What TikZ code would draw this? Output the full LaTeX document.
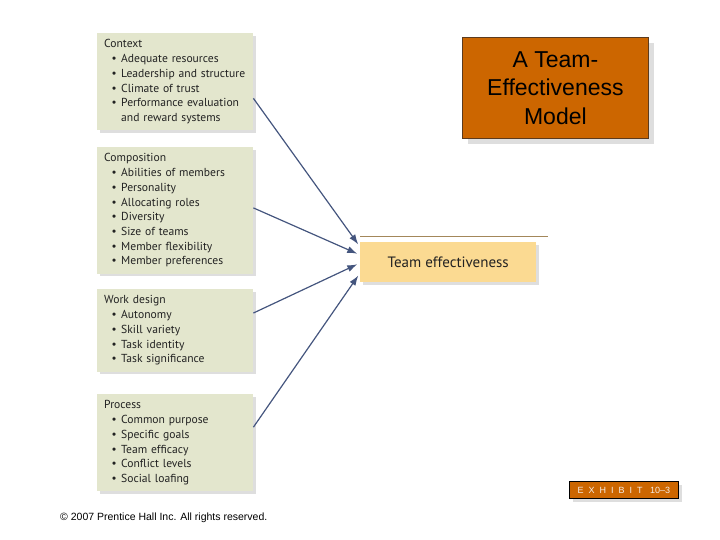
\documentclass[tikz,border=0pt]{standalone}
\usepackage{fontspec}
\setmainfont{Liberation Sans}
\newfontfamily\boxfont{PT Sans}
\usetikzlibrary{positioning, arrows.meta, shadows, calc}
\definecolor{boxGreen}{HTML}{E3E6CD}
\definecolor{teamGold}{HTML}{FBDA92}
\definecolor{titleOrange}{HTML}{CC6600}
\definecolor{titleEdge}{HTML}{5C3B1E}
\definecolor{arrowNavy}{HTML}{44557E}
\definecolor{ruleBrown}{HTML}{A3875A}
\definecolor{shadowGray}{HTML}{BDBDBD}
\definecolor{exhibitText}{HTML}{F6EEE6}
\definecolor{boxText}{HTML}{222222}

\newcommand{\itm}[1]{\hspace*{8pt}\makebox[9pt][l]{\rmfamily\textbullet}#1}
\newcommand{\cnt}[1]{\hspace*{17pt}#1}

\begin{document}
\begin{tikzpicture}[x=1pt, y=-1pt,
  factorbox/.style={fill=boxGreen, anchor=north west, align=left,
    text width=142pt, inner xsep=7pt, inner ysep=6.5pt, text=boxText,
    font=\boxfont\fontsize{11.6}{14.7}\selectfont,
    drop shadow={shadow xshift=2.5pt, shadow yshift=-2.5pt, fill=shadowGray}},
  factorarrow/.style={-{Latex[length=10pt, width=7pt]}, arrowNavy,
    line width=1.2pt, shorten >=3pt}]
  \useasboundingbox (0,0) rectangle (720,540);

  % left: the four groups of factors
  \node[factorbox] (ctx) at (97,33) {Context\\
    \itm{Adequate resources}\\
    \itm{Leadership and structure}\\
    \itm{Climate of trust}\\
    \itm{Performance evaluation}\\
    \cnt{and reward systems}};
  \node[factorbox] (comp) at (97,147) {Composition\\
    \itm{Abilities of members}\\
    \itm{Personality}\\
    \itm{Allocating roles}\\
    \itm{Diversity}\\
    \itm{Size of teams}\\
    \itm{Member flexibility}\\
    \itm{Member preferences}};
  \node[factorbox] (work) at (97,289) {Work design\\
    \itm{Autonomy}\\
    \itm{Skill variety}\\
    \itm{Task identity}\\
    \itm{Task significance}};
  \node[factorbox] (proc) at (97,394) {Process\\
    \itm{Common purpose}\\
    \itm{Specific goals}\\
    \itm{Team efficacy}\\
    \itm{Conflict levels}\\
    \itm{Social loafing}};

  % right: the outcome
  \draw[ruleBrown, line width=0.8pt] (360,236) -- (548,236);
  \node[fill=teamGold, anchor=north west, minimum width=176pt, minimum height=40pt,
    font=\boxfont\fontsize{15}{18}\selectfont, text=boxText,
    drop shadow={shadow xshift=3pt, shadow yshift=-3pt, fill=shadowGray}]
    (team) at (360,242) {Team effectiveness};

  \draw[factorarrow] ($(ctx.north east)!0.67!(ctx.south east)$) -- ($(team.north west)!0.12!(team.south west)$);
  \draw[factorarrow] ($(comp.north east)!0.48!(comp.south east)$) -- ($(team.north west)!0.32!(team.south west)$);
  \draw[factorarrow] ($(work.north east)!0.29!(work.south east)$) -- ($(team.north west)!0.52!(team.south west)$);
  \draw[factorarrow] ($(proc.north east)!0.34!(proc.south east)$) -- ($(team.north west)!0.77!(team.south west)$);

  % title and labels
  \node[fill=titleOrange, draw=titleEdge, line width=0.8pt, anchor=north west,
    minimum width=186pt, minimum height=101pt, align=center,
    font=\fontsize{23}{28.5}\selectfont,
    drop shadow={shadow xshift=6pt, shadow yshift=-6pt, fill=shadowGray}]
    (title) at (462,37) {A Team-\\Effectiveness\\Model};
  \node[fill=titleOrange, draw=black, line width=0.8pt, anchor=north west,
    minimum width=109pt, minimum height=17pt, inner sep=1pt, text=exhibitText,
    font=\fontsize{9}{10}\selectfont,
    drop shadow={shadow xshift=4pt, shadow yshift=-4pt, fill=shadowGray}]
    (exhibit) at (569,481) {E\ \ X\ \ H\ \ I\ \ B\ \ I\ \ T\ \ \ 10--3};
  \node[anchor=west, inner sep=0pt, font=\fontsize{10.5}{12}\selectfont]
    (copy) at (60,518) {\textcopyright\ 2007 Prentice Hall Inc. All rights reserved.};
\end{tikzpicture}
\end{document}
